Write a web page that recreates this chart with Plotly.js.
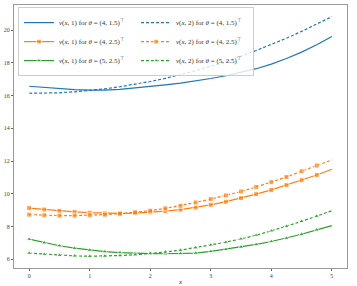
<!DOCTYPE html>
<html>
<head>
<meta charset="utf-8">
<script src="https://cdn.plot.ly/plotly-3.0.1.min.js"></script>
<style>html,body{margin:0;padding:0;background:#fff;}#chart{width:357px;height:286px;}</style>
</head>
<body>
<div id="chart"></div>
<script>
const xs = [0,0.25,0.5,0.75,1,1.25,1.5,1.75,2,2.25,2.5,2.75,3,3.25,3.5,3.75,4,4.25,4.5,4.75,5];
const blueSolid  = [16.57,16.49,16.42,16.36,16.33,16.33,16.38,16.46,16.55,16.65,16.76,16.88,17.04,17.21,17.41,17.64,17.92,18.26,18.65,19.10,19.61];
const blueDashed = [16.14,16.15,16.17,16.23,16.30,16.41,16.54,16.69,16.86,17.05,17.27,17.52,17.79,18.09,18.40,18.75,19.11,19.50,19.92,20.36,20.82];
const orangeSolid  = [9.13,9.04,8.96,8.90,8.85,8.81,8.80,8.82,8.87,8.94,9.03,9.16,9.33,9.52,9.74,9.98,10.24,10.53,10.83,11.15,11.50];
const orangeDashed = [8.73,8.69,8.67,8.67,8.69,8.73,8.79,8.87,8.97,9.11,9.27,9.47,9.68,9.90,10.14,10.42,10.71,11.03,11.38,11.73,12.07];
const greenSolid  = [7.23,7.01,6.83,6.68,6.56,6.47,6.41,6.37,6.35,6.34,6.35,6.38,6.48,6.61,6.75,6.91,7.09,7.29,7.53,7.80,8.06];
const greenDashed = [6.38,6.31,6.25,6.21,6.19,6.20,6.23,6.28,6.35,6.45,6.56,6.71,6.87,7.05,7.25,7.47,7.74,8.02,8.32,8.64,8.97];
const names = [
  '<i>v</i>(<i>x</i>, 1) for <i>θ</i> = (4, 1.5)<sup>⊤</sup>',
  '<i>v</i>(<i>x</i>, 2) for <i>θ</i> = (4, 1.5)<sup>⊤</sup>',
  '<i>v</i>(<i>x</i>, 1) for <i>θ</i> = (4, 2.5)<sup>⊤</sup>',
  '<i>v</i>(<i>x</i>, 2) for <i>θ</i> = (4, 2.5)<sup>⊤</sup>',
  '<i>v</i>(<i>x</i>, 1) for <i>θ</i> = (5, 2.5)<sup>⊤</sup>',
  '<i>v</i>(<i>x</i>, 2) for <i>θ</i> = (5, 2.5)<sup>⊤</sup>'
];
const xTicks = [0,1,2,3,4,5];
const yTicks = [6,8,10,12,14,16,18,20];

const blue = '#1f77b4', orange = '#ff7f0e', green = '#2ca02c';
const msizes = xs.map((v,i) => i === xs.length-1 ? 0 : 5);
const dashPat = '3px,2px';

function tr(y, name, color, dashed, symbol) {
  const t = {
    x: xs, y: y, name: name, type: 'scatter',
    mode: symbol ? 'lines+markers' : 'lines',
    line: {color: color, width: 1.2, dash: dashed ? dashPat : 'solid'}
  };
  if (symbol) t.marker = {symbol: symbol, size: msizes, color: color};
  return t;
}

const data = [
  tr(blueSolid, names[0], blue, false, null),
  tr(blueDashed, names[1], blue, true, null),
  tr(orangeSolid, names[2], orange, false, 'square'),
  tr(orangeDashed, names[3], orange, true, 'square'),
  tr(greenSolid, names[4], green, false, 'triangle-up'),
  tr(greenDashed, names[5], green, true, 'triangle-up')
];

const axisCommon = {
  showgrid: false, zeroline: false, showline: true, mirror: true,
  linecolor: '#999', linewidth: 1,
  ticks: 'outside', ticklen: 2, tickwidth: 1, tickcolor: '#666',
  tickfont: {family: 'Liberation Serif, serif', size: 6, color: '#444'}
};

const layout = {
  width: 357, height: 286,
  margin: {l: 14, r: 10, t: 5, b: 18},
  paper_bgcolor: '#fff', plot_bgcolor: '#fff',
  showlegend: true,
  xaxis: Object.assign({}, axisCommon, {
    range: [-0.25, 5.25], tickvals: xTicks, ticktext: xTicks.map(String),
    title: {text: '<i>x</i>', font: {family: 'Liberation Serif, serif', size: 7, color: '#333'}, standoff: 4}
  }),
  yaxis: Object.assign({}, axisCommon, {
    range: [5.47, 21.53], tickvals: yTicks, ticktext: yTicks.map(String)
  }),
  legend: {
    x: 0.012, y: 0.992, xanchor: 'left', yanchor: 'top',
    orientation: 'h', entrywidth: 72, entrywidthmode: 'pixels',
    bgcolor: 'rgba(255,255,255,0.8)', bordercolor: '#ccc', borderwidth: 1,
    font: {family: 'Liberation Serif, serif', size: 7, color: '#333'},
    itemwidth: 30, tracegroupgap: 0
  }
};

Plotly.newPlot('chart', data, layout, {displayModeBar: false, staticPlot: true});
</script>
</body>
</html>
